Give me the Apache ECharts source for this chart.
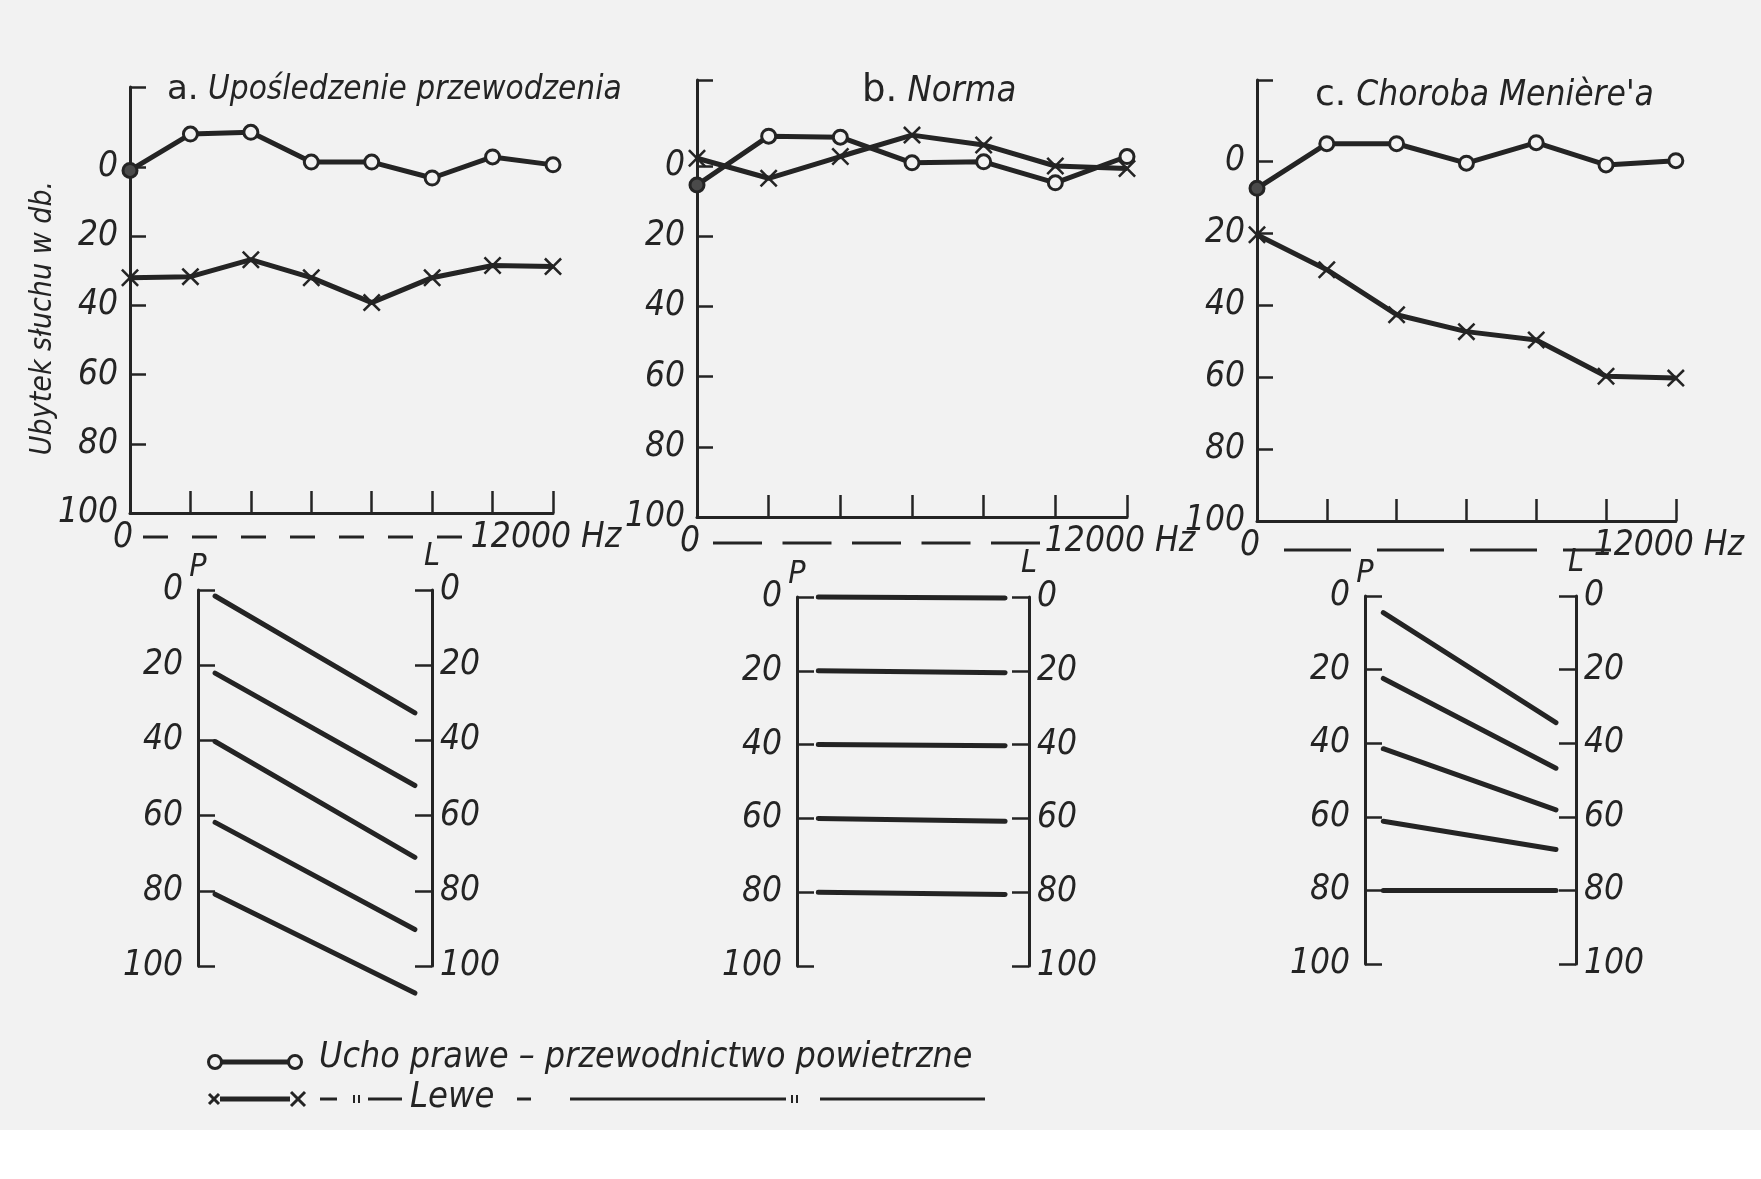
<!DOCTYPE html>
<html>
<head>
<meta charset="utf-8">
<script src="https://cdn.jsdelivr.net/npm/echarts@6/dist/echarts.min.js"></script>
<style>
html,body{margin:0;padding:0;background:#ffffff;}
#c{width:1761px;height:1179px;}
</style>
</head>
<body>
<div id="c"></div>
<script>
// ---------- DATA ----------
// Top audiograms: hearing loss in dB (0 at top, loss grows downward)
const aCategories = ['0', '', '', '', '', '', '', '12000 Hz'];
const aRightEar = [1, -9.5, -10, -1.4, -1.4, 3.2, -2.9, -0.6];
const aLeftEar  = [32, 31.7, 26.8, 32, 39.2, 32, 28.5, 28.8];

const bCategories = ['0', '', '', '', '', '', '12000 Hz'];
const bRightEar = [5.4, -8.5, -8.2, -0.9, -1.2, 4.8, -2.7];
const bLeftEar  = [-2.2, 3.5, -2.7, -8.8, -6, 0, 0.7];

const cCategories = ['0', '', '', '', '', '', '12000 Hz'];
const cRightEar = [7.6, -4.8, -4.8, 0.6, -5.1, 1.1, -0.1];
const cLeftEar  = [20.5, 30.2, 42.7, 47.4, 49.7, 59.8, 60.3];

const dbTickLabels = [0, 20, 40, 60, 80, 100];

// Bottom: loudness balance, P (right ear) level -> L (left ear) level
const aBalanceP = [1.6, 22.1, 40.3, 61.8, 80.9];
const aBalanceL = [32.7, 52, 71.1, 90.3, 107.2];
const bBalanceP = [0, 20, 40, 60, 80];
const bBalanceL = [0.3, 20.5, 40.3, 60.8, 80.6];
const cBalanceP = [4.5, 22.4, 41.5, 61.2, 80];
const cBalanceL = [34.4, 46.8, 58.1, 68.9, 80];

const panelTitles = [['a.', 'Upośledzenie przewodzenia'], ['b.', 'Norma'], ['c.', "Choroba Menière'a"]];
const yAxisTitle = 'Ubytek słuchu w db.';
const legendRight = 'Ucho prawe – przewodnictwo powietrzne';
const legendLeft = 'Lewe';

// ---------- STYLE / LAYOUT ----------
const INK = '#242424';
const BG = '#f2f2f2';
const NUMFONT = "'DejaVu Sans Condensed',sans-serif";
const TXTFONT = "'DejaVu Sans Condensed',sans-serif";
const numLab = {fontFamily: NUMFONT, fontStyle: 'italic', fontSize: 35, color: INK};
const CROSS = 'path://M1,0L5,4L9,0L10,1L6,5L10,9L9,10L5,6L1,10L0,9L4,5L0,1Z';

const tops = [
  {cats: aCategories, right: aRightEar, left: aLeftEar, grid: {left: 130, top: 87, width: 423, height: 426}, min: -23.1},
  {cats: bCategories, right: bRightEar, left: bLeftEar, grid: {left: 697, top: 80, width: 430, height: 437}, min: -24.5},
  {cats: cCategories, right: cRightEar, left: cLeftEar, grid: {left: 1257, top: 80, width: 433, height: 441}, min: -22.5}
];
const bottoms = [
  {p: aBalanceP, l: aBalanceL, grid: {left: 198, top: 590, width: 234, height: 376}, xMin: -0.0855, xMax: 1.0855},
  {p: bBalanceP, l: bBalanceL, grid: {left: 797, top: 597, width: 232, height: 369}, xMin: -0.114, xMax: 1.128},
  {p: cBalanceP, l: cBalanceL, grid: {left: 1365, top: 596, width: 211, height: 368}, xMin: -0.106, xMax: 1.116}
];

const grid = [], xAxis = [], yAxis = [], series = [];

tops.forEach((t, i) => {
  grid.push(Object.assign({containLabel: false}, t.grid));
  xAxis.push({
    type: 'category', gridIndex: i, data: t.cats, boundaryGap: false,
    axisLine: {onZero: false, lineStyle: {color: INK, width: 3}},
    axisTick: {show: true, inside: true, length: 22, interval: 0, lineStyle: {color: INK, width: 2.5}},
    axisLabel: Object.assign({interval: 0, margin: 7, lineHeight: 36, padding: [0, 14, 0, 0]}, numLab),
    splitLine: {show: false}
  });
  yAxis.push({
    type: 'value', gridIndex: i, inverse: true, min: t.min, max: 100,
    axisLine: {show: true, onZero: false, lineStyle: {color: INK, width: 3}},
    axisTick: {show: true, inside: true, length: 16, customValues: [t.min, 0, 20, 40, 60, 80], lineStyle: {color: INK, width: 2.5}},
    axisLabel: Object.assign({customValues: dbTickLabels, margin: 12}, numLab),
    splitLine: {show: false}
  });
  series.push({
    type: 'line', xAxisIndex: i, yAxisIndex: i, z: 4,
    data: t.right.map((v, k) => k === 0 ? {value: v, itemStyle: {color: '#4a4a4a'}} : v),
    symbol: 'circle', symbolSize: 14,
    lineStyle: {color: INK, width: 5},
    itemStyle: {color: BG, borderColor: INK, borderWidth: 3},
    animation: false
  });
  series.push({
    type: 'line', xAxisIndex: i, yAxisIndex: i, z: 3,
    data: t.left,
    symbol: CROSS, symbolSize: 18,
    lineStyle: {color: INK, width: 5},
    itemStyle: {color: INK, borderWidth: 0},
    animation: false
  });
});

bottoms.forEach((b, j) => {
  const gi = 3 + j;
  grid.push(Object.assign({containLabel: false}, b.grid));
  xAxis.push({type: 'value', gridIndex: gi, min: b.xMin, max: b.xMax, show: false});
  const yl = yAxis.length;
  ['left', 'right'].forEach(pos => {
    yAxis.push({
      type: 'value', gridIndex: gi, position: pos, inverse: true, min: 0, max: 100, interval: 20,
      name: pos === 'left' ? 'P' : 'L', nameLocation: 'start', nameGap: 6,
      nameTextStyle: {fontFamily: TXTFONT, fontStyle: 'italic', fontSize: 32, color: INK},
      axisLine: {show: true, onZero: false, lineStyle: {color: INK, width: 3}},
      axisTick: {show: true, inside: true, length: 17, lineStyle: {color: INK, width: 2.5}},
      axisLabel: Object.assign({margin: pos === 'left' ? 15 : 8}, numLab),
      splitLine: {show: false}
    });
  });
  b.p.forEach((pv, k) => {
    series.push({
      type: 'line', xAxisIndex: gi, yAxisIndex: yl, clip: false,
      data: [[0, pv], [1, b.l[k]]],
      symbol: 'none', lineStyle: {color: INK, width: 5, cap: 'round'},
      animation: false
    });
  });
});

const titleSizes = [33, 36, 35];
const title = panelTitles.map((pt, i) => ({
  text: '{u|' + pt[0] + '} ' + pt[1],
  left: [167, 862, 1315][i], top: [73, 73, 78][i], padding: 0,
  textStyle: {
    fontFamily: TXTFONT, fontStyle: 'italic', fontWeight: 'normal', fontSize: titleSizes[i], color: INK,
    rich: {u: {fontFamily: 'DejaVu Sans', fontStyle: 'normal', fontSize: titleSizes[i] + 1, color: INK}}
  }
}));

const txt = (text, x, y, size, extra) => ({
  type: 'text', x: x, y: y, silent: true,
  style: Object.assign({text: text, fontFamily: TXTFONT, fontStyle: 'italic', fontSize: size, fill: INK,
    align: 'left', verticalAlign: 'middle'}, extra || {})
});
const seg = (x1, y1, x2, y2, w, dash) => ({
  type: 'line', silent: true,
  shape: {x1: x1, y1: y1, x2: x2, y2: y2},
  style: {stroke: INK, lineWidth: w, lineDash: dash || null, lineCap: 'butt'}
});
const ring = (x, y) => ({type: 'circle', silent: true, shape: {cx: x, cy: y, r: 6.5}, style: {fill: BG, stroke: INK, lineWidth: 3}});
const cross = (x, y, s) => ({type: 'group', silent: true, children: [seg(x - s, y - s, x + s, y + s, 3), seg(x - s, y + s, x + s, y - s, 3)]});

const graphic = [
  {type: 'rect', silent: true, z: -10, shape: {x: 0, y: 1130, width: 1761, height: 49}, style: {fill: '#ffffff'}},
  Object.assign(txt(yAxisTitle, 43, 318, 30, {align: 'center'}), {rotation: Math.PI / 2}),
  // dashed frequency range lines
  seg(143, 537, 462, 537, 3, [25, 24]),
  seg(713, 543, 1040, 543, 3, [49, 20.5]),
  seg(1284, 550, 1611, 550, 3, [67, 26]),
  // legend row 1
  seg(221, 1062, 289, 1062, 5), ring(215, 1062), ring(295, 1062),
  txt(legendRight, 319, 1058, 35.5),
  // legend row 2
  seg(220, 1099, 290, 1099, 5), cross(214, 1099, 5), cross(298, 1099, 7),
  seg(320, 1099, 337, 1099, 3), seg(354, 1095, 354, 1103, 2), seg(359, 1095, 359, 1103, 2), seg(368, 1099, 402, 1099, 3),
  txt(legendLeft, 410, 1098, 36),
  seg(517, 1099, 531, 1099, 3),
  seg(570, 1099, 786, 1099, 3),
  seg(792, 1095, 792, 1103, 2), seg(797, 1095, 797, 1103, 2),
  seg(820, 1099, 985, 1099, 3)
];

const chart = echarts.init(document.getElementById('c'), null, {renderer: 'canvas'});
chart.setOption({
  backgroundColor: BG,
  animation: false,
  title: title,
  grid: grid, xAxis: xAxis, yAxis: yAxis, series: series,
  graphic: graphic
});
</script>
</body>
</html>
